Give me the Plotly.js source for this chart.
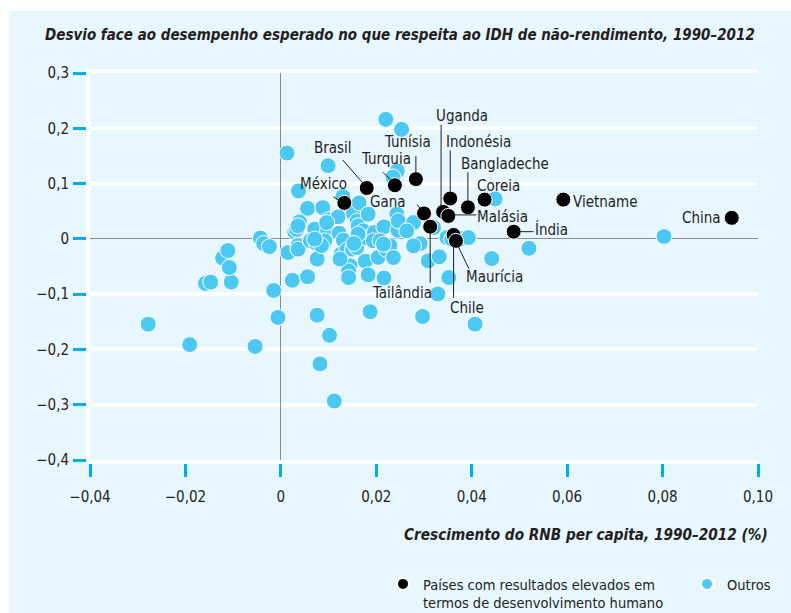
<!DOCTYPE html>
<html>
<head>
<meta charset="utf-8">
<script src="https://cdn.plot.ly/plotly-3.0.1.min.js"></script>
<style>html,body{margin:0;padding:0;background:#fff;}#chart{width:791px;height:613px;}</style>
</head>
<body>
<div id="chart"></div>
<script>
// ---- Data ----
const hlNames = ["México","Brasil","Turquia","Tunísia","Gana","Tailândia","Uganda","Malásia","Indonésia","Bangladeche","Coreia","Vietname","Índia","Chile","Maurícia","China"];
const hlX = [0.0133,0.0180,0.0239,0.0283,0.0300,0.0313,0.0340,0.0351,0.0355,0.0392,0.0427,0.0592,0.0488,0.0362,0.0367,0.0945];
const hlY = [0.065,0.092,0.097,0.108,0.046,0.022,0.049,0.0415,0.073,0.057,0.071,0.071,0.013,0.007,-0.0036,0.038];

const otherX = [-0.0278,-0.0191,-0.0054,-0.0158,-0.0147,-0.0104,-0.0122,-0.0111,-0.0108,-0.0043,-0.0036,-0.0024,-0.0015,-0.0006,0.0015,0.0024,0.0013,0.0037,0.0029,0.0033,0.0039,0.0036,0.0036,0.0056,0.0076,0.0102,0.0082,0.0112,0.0187,0.0076,0.0056,0.0088,0.0071,0.0100,0.0098,0.0062,0.0074,0.0092,0.0085,0.0120,0.0122,0.0131,0.0126,0.0138,0.0150,0.0159,0.0145,0.0142,0.0142,0.0152,0.0160,0.0162,0.0173,0.0164,0.0183,0.0179,0.0196,0.0216,0.0177,0.0183,0.0204,0.0220,0.0229,0.0236,0.0245,0.0243,0.0216,0.0099,0.0130,0.0162,0.0246,0.0278,0.0292,0.0264,0.0320,0.0071,0.0153,0.0194,0.0208,0.0124,0.0309,0.0332,0.0329,0.0220,0.0253,0.0244,0.0235,0.0449,0.0520,0.0442,0.0352,0.0407,0.0297,0.0348,0.0358,0.0379,0.0393,0.0278,0.0215,0.0803,0.0036,0.0096];
const otherY = [-0.1543,-0.1913,-0.1946,-0.0807,-0.0782,-0.0782,-0.0348,-0.0211,-0.0518,0.0013,-0.0085,-0.0141,-0.0933,-0.1421,-0.0247,-0.0749,0.1552,0.0866,0.0126,0.0171,0.0307,-0.0121,-0.0186,-0.0686,-0.1381,-0.1745,-0.2262,-0.2933,-0.1318,-0.0366,0.0551,0.0565,0.0175,0.0343,0.0157,-0.0036,-0.0078,-0.0036,-0.0121,0.0397,0.0103,-0.0023,-0.0276,-0.0204,-0.0186,-0.0157,-0.0487,-0.0578,-0.0699,0.0460,0.0325,0.0235,0.0144,0.0650,0.0446,0.0018,0.0114,0.0217,-0.0403,-0.0650,-0.0334,-0.0186,-0.0126,-0.0338,0.0157,0.0446,-0.0709,0.1323,0.0767,0.0085,0.0325,0.0294,-0.0085,0.0144,0.0204,-0.0005,-0.0085,-0.0036,-0.0036,-0.0366,-0.0397,-0.0325,-0.0998,0.2161,0.1980,0.1227,0.1119,0.0722,-0.0171,-0.0356,-0.0699,-0.1543,-0.1404,0.0023,-0.0005,0.0005,0.0023,-0.0126,-0.0096,0.0042,0.0235,0.0294];

const xTickVals = [-0.04,-0.02,0,0.02,0.04,0.06,0.08,0.10];
const xTickText = ["−0,04","−0,02","0","0,02","0,04","0,06","0,08","0,10"];
const yTickVals = [0.3,0.2,0.1,0,-0.1,-0.2,-0.3,-0.4];
const yTickText = ["0,3","0,2","0,1","0","−0,1","−0,2","−0,3","−0,4"];

const titleText = "Desvio face ao desempenho esperado no que respeita ao IDH de não-rendimento, 1990–2012";
const xTitleText = "Crescimento do RNB per capita, 1990–2012 (%)";
const legendHL = "Países com resultados elevados em<br>termos de desenvolvimento humano";
const legendOther = "Outros";

// ---- Label placement (pixel offsets from each point: text centre dx,dy; leader line) ----
const labelPos = {
  "México":      {dx:-21, dy:-19, line:[-11,-6,-4,-2]},
  "Brasil":      {dx:-34, dy:-40, line:[-24,-28,-3,-4]},
  "Turquia":     {dx:-9,  dy:-26, line:[-12,-13,-3,-4]},
  "Tunísia":     {dx:-8,  dy:-37, line:[0,-23,0,-5]},
  "Gana":        {dx:-36, dy:-11, line:[-7,-9,-3,-4]},
  "Tailândia":   {dx:-28, dy:66,  line:[0,1,0,56]},
  "Uganda":      {dx:19,  dy:-96, line:[-2,-87,-2,-4]},
  "Malásia":     {dx:54,  dy:1,   line:[2,-1,28,-1]},
  "Indonésia":   {dx:28,  dy:-57, line:[0,-48,0,-4]},
  "Bangladeche": {dx:37,  dy:-43, line:[0,-35,0,-5]},
  "Coreia":      {dx:14,  dy:-14, line:null},
  "Vietname":    {dx:8,   dy:2,   anchor:'left', line:null},
  "Índia":       {dx:38,  dy:-2,  line:[5,0,20,0]},
  "Chile":       {dx:13,  dy:73,  line:[0,6,0,63]},
  "Maurícia":    {dx:39,  dy:36,  line:[1,3,13,28]},
  "China":       {dx:-9,  dy:0,   anchor:'right', line:null}
};

const FONT = "'Liberation Sans Narrow', 'DejaVu Sans Condensed', 'Roboto Condensed', sans-serif";
const BG = "#e8f6fd";
const CYAN = "#4cc9f2";
const TXT = "#231f20";

const traces = [
  {
    type:'scatter', mode:'markers', x: otherX, y: otherY, name: legendOther, legend:'legend2',
    marker:{color:CYAN, size:16, line:{color:'#ffffff', width:1}}, hoverinfo:'skip'
  },
  {
    type:'scatter', mode:'markers', x: hlX, y: hlY, name: legendHL, legend:'legend',
    marker:{color:'#000000', size:15, line:{color:'#ffffff', width:1}}, hoverinfo:'skip'
  }
];

const annotations = [];
const shapes = [
  {type:'rect', xref:'paper', yref:'paper', x0:-0.1213, x1:1.06, y0:-0.40, y1:1.160, fillcolor:BG, line:{width:0}, layer:'below'}
];
hlNames.forEach((n,i)=>{
  const p = labelPos[n];
  annotations.push({
    x: hlX[i], y: hlY[i], xref:'x', yref:'y', text:n, showarrow:false,
    xanchor: p.anchor || 'center', yanchor:'middle',
    xshift:p.dx, yshift:-p.dy,
    font:{family:FONT, size:15, color:TXT}
  });
  if (p.line) {
    shapes.push({
      type:'line', xref:'x', yref:'y', xsizemode:'pixel', ysizemode:'pixel',
      xanchor:hlX[i], yanchor:hlY[i],
      x0:p.line[0], y0:-p.line[1], x1:p.line[2], y1:-p.line[3],
      line:{color:TXT, width:1}, layer:'above'
    });
  }
});
annotations.push({
  xref:'paper', yref:'paper', x:1.018, y:-0.194, xanchor:'right', yanchor:'middle',
  text:'<b><i>'+xTitleText+'</i></b>', showarrow:false,
  font:{family:FONT, size:15.2, color:TXT}
});

const layout = {
  width:791, height:613,
  margin:{l:90, r:33, t:73, b:153, pad:0, autoexpand:false},
  paper_bgcolor:'#ffffff', plot_bgcolor:BG,
  separators:',.',
  showlegend:true,
  title:{text:'<b><i>'+titleText+'</i></b>', x:0.057, xanchor:'left', xref:'container', y:0.943, yanchor:'middle', yref:'container',
         font:{family:FONT, size:15, color:TXT}},
  xaxis:{
    range:[-0.04,0.10], tickvals:xTickVals, ticktext:xTickText,
    showgrid:false, zeroline:true, zerolinecolor:'#8c8c8c', zerolinewidth:1,
    showline:true, linecolor:'#ffffff', linewidth:4, mirror:true,
    ticks:'outside', ticklen:13, tickwidth:3, tickcolor:'#00aeef', ticklabelstandoff:7,
    tickfont:{family:FONT, size:15, color:TXT}, fixedrange:true
  },
  yaxis:{
    range:[-0.4,0.3], tickvals:yTickVals, ticktext:yTickText,
    showgrid:true, gridcolor:'#ffffff', gridwidth:4,
    zeroline:true, zerolinecolor:'#8c8c8c', zerolinewidth:1,
    showline:true, linecolor:'#ffffff', linewidth:4,
    ticks:'outside', ticklen:13, tickwidth:3, tickcolor:'#00aeef', ticklabelstandoff:1,
    tickfont:{family:FONT, size:15, color:TXT}, fixedrange:true
  },
  legend:{x:0.4386, y:-0.279, xanchor:'left', yanchor:'top', orientation:'v', valign:'top',
          bgcolor:'rgba(0,0,0,0)', font:{family:FONT, size:14.5, color:TXT}, itemsizing:'constant'},
  legend2:{x:0.8937, y:-0.279, xanchor:'left', yanchor:'top', orientation:'v', valign:'top',
          bgcolor:'rgba(0,0,0,0)', font:{family:FONT, size:14.5, color:TXT}, itemsizing:'constant'},
  annotations:annotations,
  shapes:shapes
};

Plotly.newPlot('chart', traces, layout, {displayModeBar:false, staticPlot:true});
</script>
</body>
</html>
